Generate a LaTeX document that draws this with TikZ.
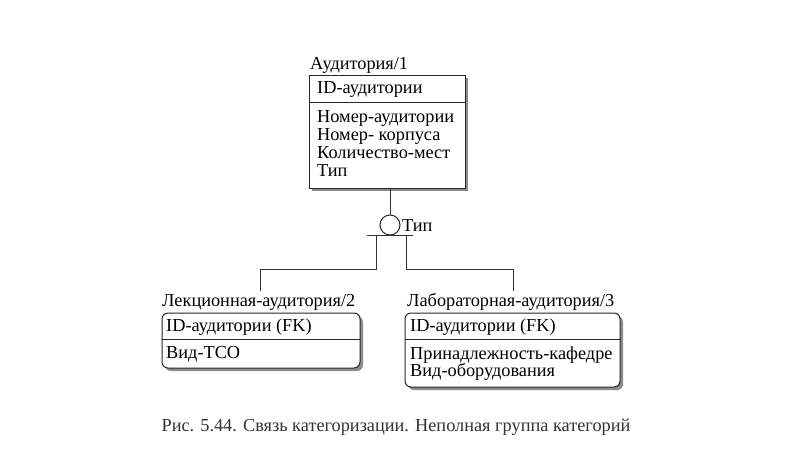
\documentclass[tikz,border=0pt]{standalone}
\usepackage{fontspec}
\setmainfont{Liberation Serif}
\tikzset{
  boxline/.style={draw=black!85, line width=1pt},
  shade/.style={fill=black!45, draw=none},
  txt/.style={anchor=base west, inner sep=0pt, font=\fontsize{18.3}{21}\selectfont},
  ttl/.style={anchor=base west, inner sep=0pt, font=\fontsize{18.3}{21}\selectfont},
  link/.style={draw=black!80, line width=1pt},
  capt/.style={anchor=base, inner sep=0pt, text=black!80, font=\fontsize{18.3}{21}\selectfont},
}
\begin{document}
\begin{tikzpicture}[x=1pt,y=-1pt]
\useasboundingbox[fill=white] (0,0) rectangle (800,450);

% ---- top entity
\fill[shade] (312,78) rectangle (468,191);
\node[boxline, fill=white, anchor=north west, inner sep=0pt,
      minimum width=156pt, minimum height=113pt] (e1) at (309,75) {};
\draw[boxline] (309,102) -- (465,102);
\node[ttl] (t1) at (310,69) {Аудитория/1};
\node[txt] (k1) at (317,93) {ID-аудитории};
\node[txt] (a11) at (317,122) {Номер-аудитории};
\node[txt] (a12) at (317,140) {Номер- корпуса};
\node[txt] (a13) at (317,158) {Количество-мест};
\node[txt] (a14) at (317,176) {Тип};

% ---- category symbol
\node[circle, draw=black!85, line width=1pt, minimum size=20pt, inner sep=0pt] (cat) at (390,225) {};
\node[txt] (catl) at (402,231) {Тип};
\draw[link] (cat |- e1.south) -- (cat.north);
\draw[link] (367,235) -- (413,235);
\coordinate (bl) at (376,235);
\coordinate (br) at (406,235);
\coordinate (j2) at (260,291);
\coordinate (j3) at (513,291);
\draw[link] (bl) -- ++(0,34) -| (j2);
\draw[link] (br) -- ++(0,34) -| (j3);

% ---- left entity
\fill[shade, rounded corners=6pt] (165,316) rectangle (363,371);
\draw[boxline, fill=white, rounded corners=6pt] (162,313) rectangle (360,368);
\draw[boxline] (162,339) -- (360,339);
\node[ttl] (t2) at (162,306) {Лекционная-аудитория/2};
\node[txt] (k2) at (166,331) {ID-аудитории (FK)};
\node[txt] (a21) at (166,358) {Вид-ТСО};

% ---- right entity
\fill[shade, rounded corners=6pt] (408,316) rectangle (623,390);
\draw[boxline, fill=white, rounded corners=6pt] (405,313) rectangle (620,387);
\draw[boxline] (405,339) -- (620,339);
\node[ttl] (t3) at (407,306) {Лабораторная-аудитория/3};
\node[txt] (k3) at (410,331) {ID-аудитории (FK)};
\node[txt] (a31) at (410,359) {Принадлежность-кафедре};
\node[txt] (a32) at (410,376) {Вид-оборудования};

% ---- caption
\node[capt] (cap) at (396,431) {Рис. 5.44. Связь категоризации. Неполная группа категорий};
\end{tikzpicture}
\end{document}
